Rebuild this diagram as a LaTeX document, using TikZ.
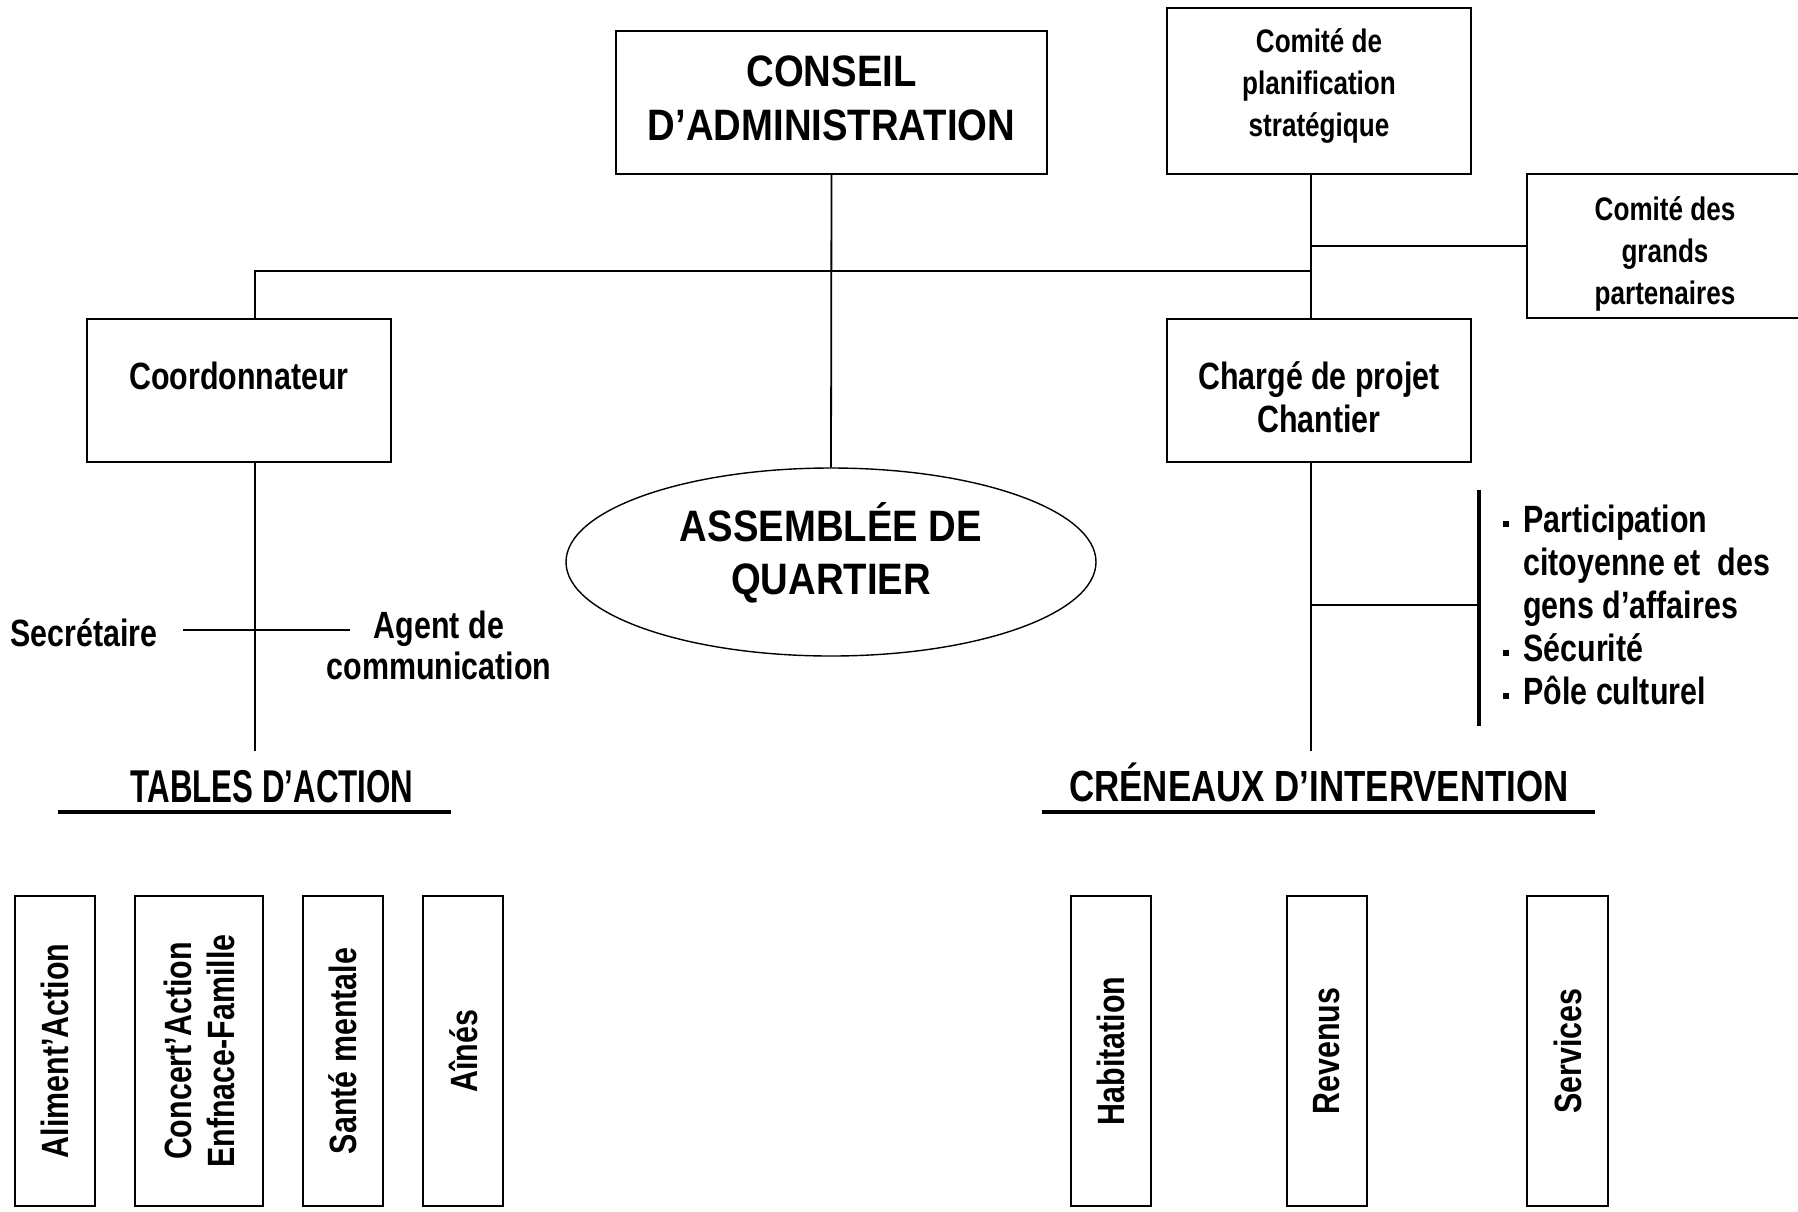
\documentclass[tikz,border=0pt]{standalone}
\usepackage{fontspec}
\setmainfont{Liberation Sans}[FakeStretch=0.8]
\newfontfamily\wideface{Liberation Sans}[FakeStretch=0.87]
\newfontfamily\narrowface{Liberation Sans}[FakeStretch=0.68]
\usetikzlibrary{shapes.geometric}

\newcommand{\sqbullet}{\rule[0.3ex]{3pt}{3pt}}

\tikzset{
    box/.style={draw, line width=1.1pt, inner sep=0pt, align=center, font=\bfseries\fontsize{19}{21.5}\selectfont},
    vbox/.style={box, rotate=90, minimum width=155pt},
    lbl/.style={inner sep=0pt, align=center, font=\bfseries\fontsize{19}{21.5}\selectfont},
    small/.style={font=\bfseries\fontsize{16.3}{21}\selectfont},
    conn/.style={line width=0.9pt},
    uline/.style={line width=2pt}
}

\begin{document}
\begin{tikzpicture}[x=0.5pt, y=-0.5pt]
            \useasboundingbox (0,0) rectangle (1798,1211);
            % top level
            \node[box, minimum width=215.5pt, minimum height=71.5pt, font=\wideface\bfseries\fontsize{22}{27}\selectfont] (conseil) at (831.5,102.5) {CONSEIL\\D’ADMINISTRATION\\[-22.4pt]\mbox{}};
            \node[box, minimum width=152pt, minimum height=83pt] (plan) at (1319,91) {};
            \node[lbl, small] (plantxt) at ([yshift=2.6pt]plan.center) {Comité de\\planification\\stratégique};
            \node[box, minimum width=138pt, minimum height=72pt] (grands) at (1665,246) {};
            \node[lbl, small] (grandstxt) at ([yshift=-4.2pt]grands.center) {Comité des\\grands\\partenaires};
            \node[box, minimum width=152pt, minimum height=71.5pt] (coord) at (239,390.5) {Coordonnateur\\[-7pt]\mbox{}};
            \node[box, minimum width=152pt, minimum height=71.5pt] (charge) at (1319,390.5) {};
            \node[lbl] (chargetxt) at ([yshift=-3.4pt]charge.center) {Chargé de projet\\Chantier};
            \node[draw, ellipse, line width=0.7pt, minimum width=265pt, minimum height=94pt, inner sep=0pt] (assemblee) at (831,562) {};
            \node[lbl, font=\wideface\bfseries\fontsize{22}{26.5}\selectfont] (assembleetxt) at ([yshift=4.4pt]assemblee.center) {ASSEMBLÉE DE\\QUARTIER};

            % staff and headings
            \node[lbl] (secr) at (84,633) {Secrétaire};
            \node[lbl, font=\bfseries\fontsize{19}{20.5}\selectfont] (agent) at (439,645.5) {Agent de\\communication};
            \node[lbl, font=\narrowface\bfseries\fontsize{23}{25}\selectfont] (tables) at (272,787) {TABLES D’ACTION};
            \node[lbl, font=\bfseries\fontsize{21.8}{24}\selectfont] (creneaux) at (1319,782) {CRÉNEAUX D’INTERVENTION};
            \node[lbl, anchor=west, align=left] (volets) at (1503,610) {\begin{tabular}{@{}l@{\hspace{7pt}}l@{}}
                \sqbullet & Participation\\
                 & citoyenne et\ \ des\\
                 & gens d’affaires\\
                \sqbullet & Sécurité\\
                \sqbullet & Pôle culturel
            \end{tabular}};

            % connectors
            \coordinate (jl) at (255,271);
            \coordinate (jr) at (1311,271);
            \coordinate (tabend) at (255,751);
            \coordinate (creend) at (1311,751);
            \coordinate (sl) at (183,630);
            \coordinate (sr) at (350,630);
            \coordinate (bar) at (1479,605);
            \draw[conn] (conseil.south) -- (assemblee.north);
            \draw[conn] (coord.north -| jl) -- (jl) -- (jr);
            \draw[conn] (plan.south -| jr) -- (charge.north -| jr);
            \draw[conn] (jr |- grands.west) -- (grands.west);
            \draw[conn] (coord.south -| jl) -- (tabend);
            \draw[conn] (sl) -- (sr);
            \draw[conn] (charge.south -| jr) -- (creend);
            \draw[conn] (jr |- bar) -- (bar);
            \draw[uline] (1479,490) -- (1479,726);
            \draw[uline] (58,812) -- (451,812);
            \draw[uline] (1042,812) -- (1595,812);

            % tables and creneaux
            \foreach \n/\x/\w/\t in {alim/55/40/{Aliment’Action}, concert/199/64/{Concert’Action\\Enfnace-Famille}, sante/343/40/{Santé mentale}, aines/463/40/{Aînés}, habit/1111/40/{Habitation}, revenus/1327/40/{Revenus}, services/1567.5/40.5/{Services}}{
                \node[vbox, minimum height=\w pt] (\n) at (\x,1051) {\t};
            }
        \end{tikzpicture}
\end{document}
